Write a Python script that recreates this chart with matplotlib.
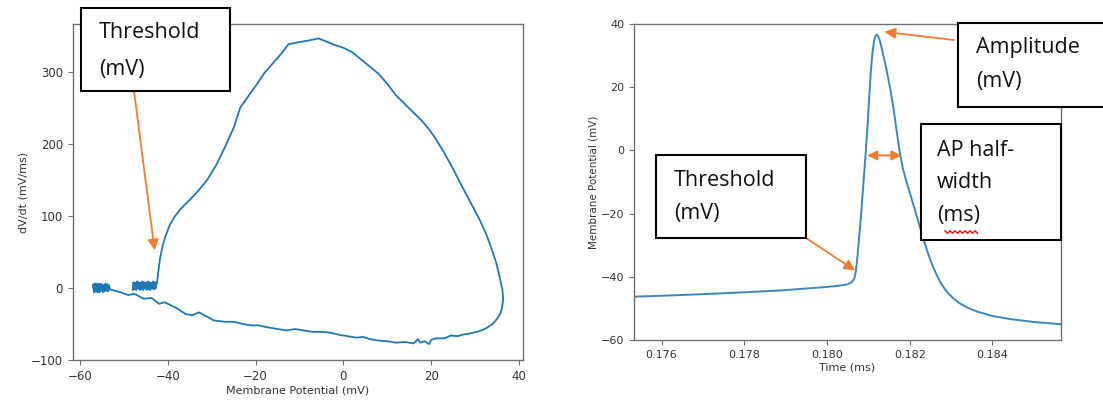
import matplotlib.pyplot as plt
from matplotlib.patches import Rectangle
from matplotlib.lines import Line2D

W, H = 1103, 403

# phase plot: noisy pre-spike band, upstroke, repolarisation, after-band
band2_v = [-48.0, -47.8, -47.6, -47.4, -47.2, -47.0, -46.8, -46.6, -46.4, -46.2, -46.0,
           -45.8, -45.6, -45.4, -45.2, -45.0, -44.8, -44.6, -44.4, -44.2, -44.0, -43.8,
           -43.6, -43.4, -43.2, -43.0, -42.8, -42.6, -42.5]
band2_d = [-3, 8, -2, 7, -3, 9, -1, 8, -3, 7, -2, 9, -3, 8, -1, 7, -3, 9, -2, 8,
           -3, 7, -1, 9, -2, 8, -1, 7, 6]
up_v = [-42.2, -41.8, -41.2, -40.5, -39.5, -38.3, -37.0, -35.0, -33.0, -31.0, -29.0, -27.0,
        -25.0, -23.5, -22.0, -20.0, -18.0, -16.0, -14.0, -12.5, -10.0, -8.0, -5.7, -4.0, -2.0,
        0.0, 2.0, 4.0, 6.0, 8.0, 10.0, 12.0, 14.0, 16.0, 18.0, 19.5, 21.0, 23.0, 25.0, 27.0,
        29.0, 31.0, 32.5, 33.7, 34.8, 35.6, 36.2, 36.4, 36.2]
up_d = [20, 40, 58, 72, 88, 100, 110, 122, 135, 150, 170, 195,
        222, 250, 263, 280, 298, 312, 326, 338, 341, 343, 346, 342, 337,
        333, 327, 317, 307, 297, 283, 267, 255, 243, 231, 220, 207, 187, 165, 141,
        118, 95, 75, 55, 35, 15, -2, -15, -25]
down_v = [35.8, 35.0, 34.0, 32.5, 31.0, 29.0, 27.0, 26.0, 24.5, 23.0, 21.0, 20.0, 19.5, 18.5,
          17.5, 17.0, 16.0, 14.0, 12.0, 10.0, 8.0, 6.0, 4.5, 3.0, 1.0, -1.0, -3.0, -5.0, -7.0,
          -9.0, -11.0, -13.0, -15.0, -17.0, -19.4, -21.0, -23.0, -24.9, -27.0, -29.6, -31.0,
          -32.9, -34.5, -36.0, -38.0, -40.7, -42.0, -43.7, -45.5, -47.7, -49.0, -50.8, -52.0, -53.2]
down_d = [-35, -43, -50, -56, -60, -63, -65, -67, -66, -70, -70, -72, -78, -74,
          -76, -71, -77, -75, -76, -74, -73, -71, -68, -69, -67, -65, -62, -61, -61,
          -59, -57, -59, -57, -55, -52, -52, -50, -47, -47, -45, -40,
          -34, -38, -36, -28, -20, -22, -14, -15, -8, -10, -6, -4, -2]
band1_v = [-53.4, -53.6, -53.8, -54.0, -54.2, -54.4, -54.6, -54.8, -55.0, -55.2, -55.4,
           -55.6, -55.8, -56.0, -56.2, -56.4, -56.6, -56.8, -57.0, -56.8, -56.6, -56.4,
           -56.2, -56.0, -55.8, -55.6, -55.4]
band1_d = [4, -5, 5, -4, 6, -5, 4, -6, 5, -4, 6, -5, 5, -6, 4, -5, 6, -4, 5, -6,
           4, -5, 6, -4, 5, -6, 3]

phase_v = band2_v + up_v + down_v + band1_v
phase_d = band2_d + up_d + down_d + band1_d

# action potential trace
t_ms = [0.175335, 0.1760, 0.1770, 0.1780, 0.1786, 0.1790, 0.1795, 0.1800, 0.1803, 0.1805,
        0.18060, 0.18066, 0.18070, 0.18074, 0.18078, 0.18082, 0.18086, 0.18090, 0.18094,
        0.18098, 0.18102, 0.18106, 0.18110, 0.18114, 0.18117, 0.18120, 0.18123, 0.18127,
        0.18132, 0.18138, 0.18144, 0.18152, 0.18160, 0.18168, 0.18176, 0.18184, 0.18193,
        0.18205, 0.18217, 0.18229, 0.18241, 0.18253, 0.18265, 0.18277, 0.18290, 0.18305,
        0.18322, 0.18342, 0.18365, 0.18400, 0.18444, 0.18500, 0.185656]
v_mv = [-46.3, -46.0, -45.5, -44.9, -44.5, -44.2, -43.7, -43.2, -42.8, -42.4,
        -41.6, -40.6, -38.0, -33.0, -27.0, -21.0, -14.0, -7.0, 0.0,
        8.0, 17.0, 25.0, 31.0, 34.8, 36.2, 36.6, 36.3, 35.0,
        32.5, 29.0, 25.5, 20.0, 14.0, 6.5, -0.8, -6.0, -10.3,
        -15.5, -20.8, -26.2, -31.4, -35.8, -39.4, -42.4, -44.8, -46.8,
        -48.5, -49.9, -51.1, -52.4, -53.4, -54.3, -55.0]

text_c = '#333333'
spine_c = '#707070'
orange = '#ed7d31'

fig = plt.figure(figsize=(W / 100, H / 100), dpi=100)
ax1 = fig.add_axes([72.7 / W, 1 - 360 / H, 450 / W, 336 / H])
ax2 = fig.add_axes([634 / W, 1 - 340 / H, 427 / W, 316 / H])

ax1.plot(phase_v, phase_d, color='#1f77b4', lw=1.3)
ax1.set_xlim(-61.66, 40.84)
ax1.set_ylim(-100, 366)
ax1.set_xticks([-60, -40, -20, 0, 20, 40])
ax1.set_yticks([-100, 0, 100, 200, 300])
ax1.set_xlabel('Membrane Potential (mV)', fontsize=8, color=text_c, labelpad=2)
ax1.set_ylabel('dV/dt (mV/ms)', fontsize=8, color=text_c, labelpad=2)

ax2.plot(t_ms, v_mv, color='#3a87c0', lw=1.4)
ax2.set_xlim(0.175335, 0.185656)
ax2.set_ylim(-60, 40)
ax2.set_xticks([0.176, 0.178, 0.180, 0.182, 0.184])
ax2.set_xticklabels(['0.176', '0.178', '0.180', '0.182', '0.184'])
ax2.set_yticks([-60, -40, -20, 0, 20, 40])
ax2.set_xlabel('Time (ms)', fontsize=8, color=text_c, labelpad=2)
ax2.set_ylabel('Membrane Potential (mV)', fontsize=7.5, color=text_c, labelpad=2)

for ax in (ax1, ax2):
    for s in ax.spines.values():
        s.set_color(spine_c)
        s.set_linewidth(1.0)
    ax.tick_params(labelsize=8.5 if ax is ax1 else 8, colors=text_c, color=spine_c)


def fpos(x, y):
    return (x / W, 1 - y / H)


def box(x0, y0, x1, y1, lines, tx, ty, step):
    fig.add_artist(Rectangle(fpos(x0, y1), (x1 - x0) / W, (y1 - y0) / H,
                             transform=fig.transFigure, facecolor='white',
                             edgecolor='black', lw=1.5, zorder=5))
    for i, s in enumerate(lines):
        fig.text(*fpos(tx, ty + i * step), s, fontsize=15.5, family='Open Sans',
                 color='#111111', va='center', ha='left', zorder=6)


arrow = dict(arrowstyle='-|>', color=orange, lw=1.3, mutation_scale=16, shrinkA=0, shrinkB=0)

# left panel overlay
ax1.annotate('', xy=(-43.0, 52), xytext=fpos(134, 91), textcoords='figure fraction',
             arrowprops=arrow)
box(80.7, 7.5, 229.5, 91, ['Threshold', '(mV)'], 99, 33, 36)

# right panel overlays
ax2.annotate('', xy=(0.18139, 37.5), xytext=fpos(954, 40), textcoords='figure fraction',
             arrowprops=arrow)
ax2.annotate('', xy=(0.18068, -38.0), xytext=fpos(806, 238), textcoords='figure fraction',
             arrowprops=arrow)
ax2.annotate('', xy=(0.18180, -1.6), xytext=(0.18097, -1.6),
             arrowprops=dict(arrowstyle='<|-|>', color=orange, lw=1.5,
                             mutation_scale=14, shrinkA=0, shrinkB=0))
box(958, 23, 1115, 107, ['Amplitude', '(mV)'], 976, 48, 34)
box(655.6, 155, 806, 238, ['Threshold', '(mV)'], 674, 180, 34)
box(920.7, 124, 1061, 240, ['AP half-', 'width', '(ms)'], 937, 151, 32)

# spell-check squiggle under "ms"
sx = [945 + 2.5 * i for i in range(14)]
sy = [232 + (1.2 if i % 2 else -1.2) for i in range(14)]
fig.add_artist(Line2D([x / W for x in sx], [1 - y / H for y in sy], color='red', lw=1,
                      transform=fig.transFigure, zorder=7))

fig.savefig('out.png', dpi=100)
